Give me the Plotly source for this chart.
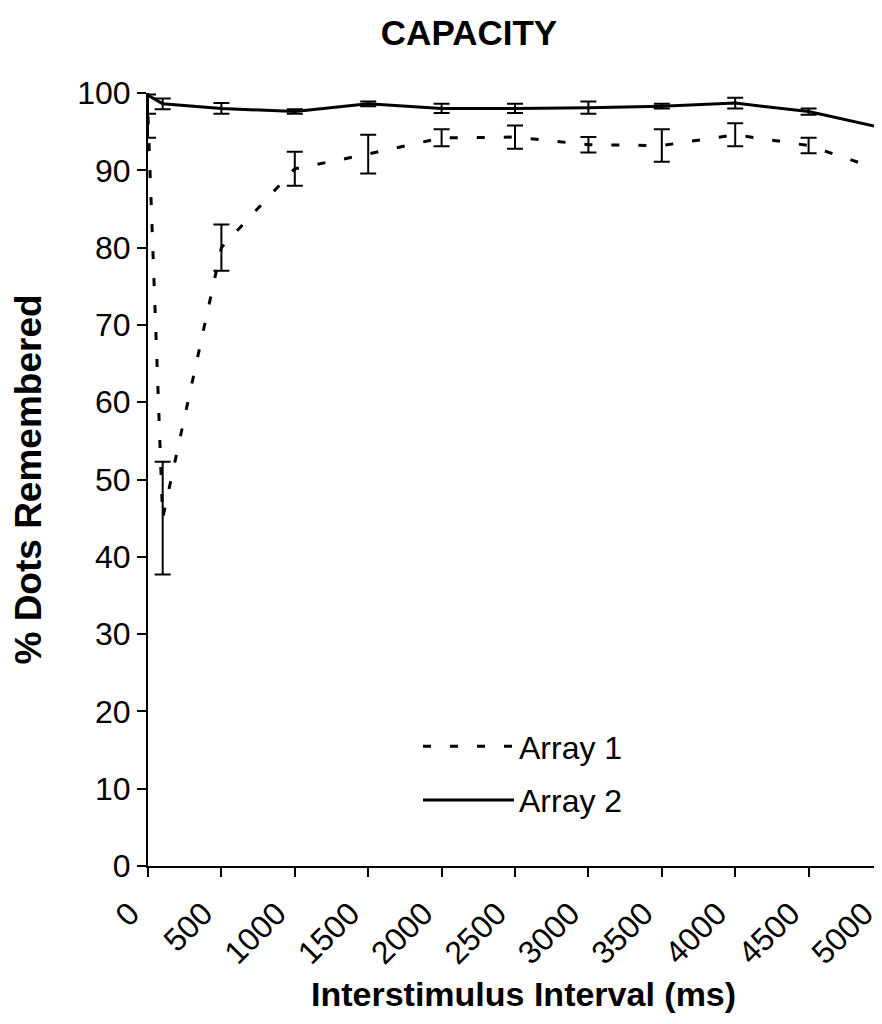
import plotly.graph_objects as go

# Data
isi_ms = [0, 100, 500, 1000, 1500, 2000, 2500, 3000, 3500, 4000, 4500, 5000]
array1 = [97.0, 45.0, 80.0, 90.2, 92.1, 94.2, 94.3, 93.3, 93.2, 94.6, 93.2, 90.0]
array1_err = [2.8, 7.3, 3.0, 2.2, 2.5, 1.1, 1.5, 1.0, 2.1, 1.5, 1.0, 2.8]
array2 = [99.7, 98.6, 98.0, 97.6, 98.6, 98.0, 98.0, 98.1, 98.3, 98.7, 97.6, 95.5]
array2_err = [2.4, 0.7, 0.7, 0.3, 0.3, 0.6, 0.6, 0.8, 0.3, 0.7, 0.4, 1.5]
x_ticks = [0, 500, 1000, 1500, 2000, 2500, 3000, 3500, 4000, 4500, 5000]
y_ticks = [0, 10, 20, 30, 40, 50, 60, 70, 80, 90, 100]

FONT = "Liberation Sans"
W, H = 874, 1008  # page body has an 8px margin
L, R, T, B = 140, 0, 85, 150
PW, PH = W - L - R, H - T - B

fig = go.Figure()
fig.add_trace(go.Scatter(
    x=isi_ms, y=array1, name="Array 1", mode="lines", legendgroup="a1",
    line=dict(color="black", width=3, dash="8px,19px"),
    error_y=dict(type="data", array=array1_err, visible=True,
                 color="black", thickness=2, width=8),
))
fig.add_trace(go.Scatter(
    x=isi_ms, y=array2, name="Array 2", mode="lines", legendgroup="a2",
    line=dict(color="black", width=3),
    error_y=dict(type="data", array=array2_err, visible=True,
                 color="black", thickness=2, width=8),
))

fig.update_layout(
    width=W, height=H,
    margin=dict(l=L, r=R, t=T, b=B, pad=0),
    paper_bgcolor="white", plot_bgcolor="white",
    font=dict(family=FONT, color="black", size=32),
    title=dict(text="CAPACITY", x=461 / W, xref="container", xanchor="center",
               y=1 - 25 / H, yref="container", yanchor="middle",
               font=dict(family=FONT, size=35, weight="bold", color="black")),
    showlegend=True,
    legend=dict(x=(410 - L) / PW, y=(H - B - 711) / PH, xanchor="left", yanchor="top",
                bgcolor="rgba(0,0,0,0)", itemwidth=91, tracegroupgap=9,
                font=dict(family=FONT, size=32, color="black")),
    annotations=[dict(
        text="<b>Interstimulus Interval (ms)</b>", xref="paper", yref="paper",
        x=(515.5 - L) / PW, y=-(986 - (H - B)) / PH, xanchor="center", yanchor="middle",
        showarrow=False, font=dict(family=FONT, size=34, color="black"),
    )],
)
fig.update_xaxes(
    range=[0, 5000], tickmode="array", tickvals=x_ticks, ticktext=[str(v) for v in x_ticks],
    tickangle=-45, ticks="outside", ticklen=9, tickwidth=2, tickcolor="black",
    ticklabeloverflow="allow", ticklabelshift=-18, ticklabelstandoff=5,
    showline=True, linecolor="black", linewidth=2, showgrid=False, zeroline=False,
    tickfont=dict(family=FONT, size=32, color="black"),
)
fig.update_yaxes(
    range=[0, 100], tickmode="array", tickvals=y_ticks,
    ticks="outside", ticklen=9, tickwidth=2, tickcolor="black",
    showline=True, linecolor="black", linewidth=2, showgrid=False, zeroline=False,
    tickfont=dict(family=FONT, size=32, color="black"),
    title=dict(text="% Dots Remembered", standoff=30,
               font=dict(family=FONT, size=37, weight="bold", color="black")),
)

fig.write_html("out.html")
